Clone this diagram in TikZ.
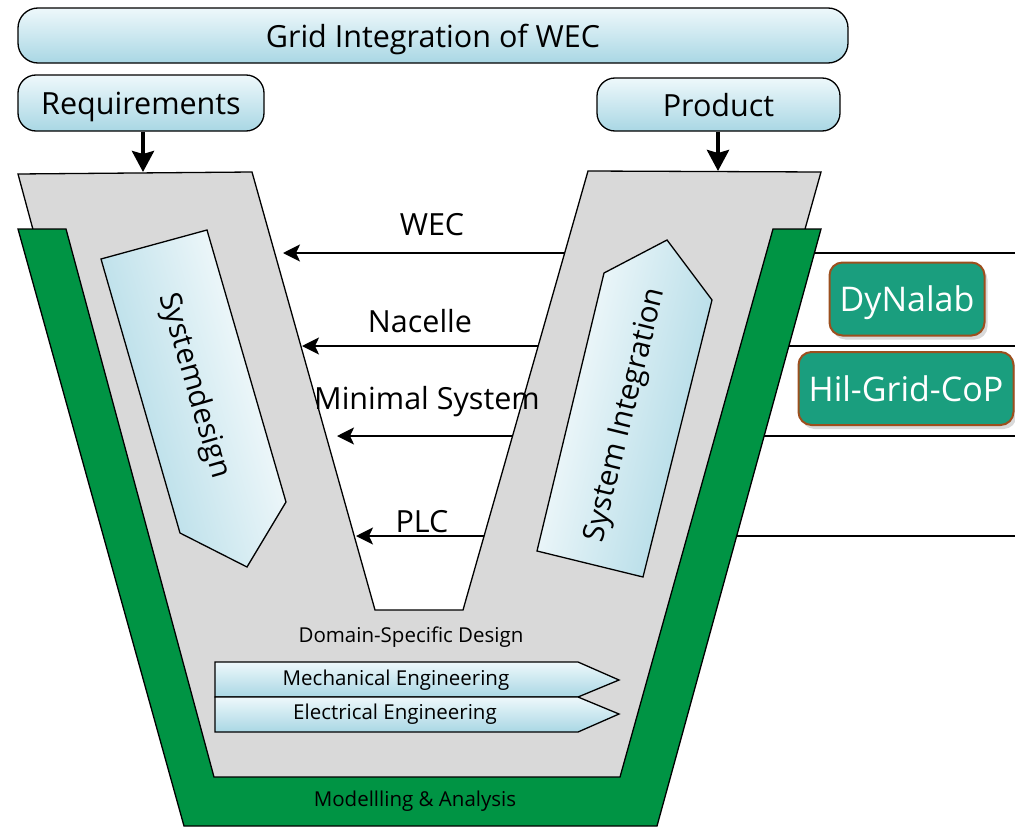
\documentclass[tikz,border=0pt]{standalone}
\usepackage{fontspec}
\setmainfont{Open Sans}
\usetikzlibrary{arrows.meta,shadows}
\definecolor{vgray}{HTML}{D9D9D9}
\definecolor{vgreen}{HTML}{009444}
\definecolor{labteal}{HTML}{1A9E7E}
\definecolor{labedge}{HTML}{9C4F1E}
\definecolor{paleblue}{HTML}{EEF8FB}
\definecolor{midblue}{HTML}{A9D7E4}
\tikzset{
  bigfont/.style={font=\fontsize{30.5}{34}\selectfont},
  rotfont/.style={font=\fontsize{29.7}{33}\selectfont},
  labfont/.style={font=\fontsize{34}{38}\selectfont},
  smallfont/.style={font=\fontsize{20.5}{24}\selectfont},
  bluebar/.style={draw, line width=1.3pt, top color=paleblue, bottom color=midblue,
    inner sep=0pt, text depth=0pt, bigfont},
  labbox/.style={draw=labedge, line width=2pt, fill=labteal, text=white,
    rounded corners=13pt, inner sep=0pt, text depth=0pt, labfont,
    drop shadow={shadow xshift=3pt, shadow yshift=-4pt, opacity=0.3}},
  downarrow/.style={line width=4pt, -{Stealth[length=21pt,width=22pt,inset=3pt]}},
  levelarrow/.style={line width=1.8pt, -{Stealth[length=17pt,width=17pt,inset=4pt]}},
  vshape/.style={draw, line width=1.3pt, line join=miter},
  engarrow/.style={draw, line width=1.3pt, top color=paleblue, bottom color=midblue},
}
\begin{document}
\begin{tikzpicture}[x=1pt,y=-1pt]
\useasboundingbox (0,0) rectangle (1015,827);

% integration levels, drawn first so the V covers them
\coordinate (wecR) at (1015,253);  \coordinate (wecL) at (283,253);
\coordinate (nacR) at (1015,346);  \coordinate (nacL) at (302,346);
\coordinate (minR) at (1015,436);  \coordinate (minL) at (337,436);
\coordinate (plcR) at (1015,536);  \coordinate (plcL) at (356,536);
\draw[levelarrow] (wecR) -- (wecL);
\draw[levelarrow] (nacR) -- (nacL);
\draw[levelarrow] (minR) -- (minL);
\draw[levelarrow] (plcR) -- (plcL);

% grey V
\draw[vshape, fill=vgray] (18,174) -- (252,172) -- (375,610) -- (463,610) -- (588,171)
  -- (821,172) -- (645,800) -- (187,800) -- cycle;
% green modelling frame
\draw[vshape, fill=vgreen] (18,229) -- (66,229) -- (214,777) -- (620,777) -- (773,229)
  -- (821,229) -- (657,826) -- (184,826) -- cycle;

% design and integration arrows
\draw[draw, line width=1.3pt, left color=midblue, right color=white, shading angle=106]
  (101,259) -- (207,230) -- (286,502) -- (247,567) -- (180,533) -- cycle;
\node[rotate=-73.8, rotfont] (sysdesign) at (194,386) {Systemdesign};
\draw[draw, line width=1.3pt, left color=white, right color=midblue, shading angle=76.2]
  (604,273) -- (667,240) -- (712,300) -- (643,577) -- (537,551) -- cycle;
\node[rotate=76.2, rotfont] (sysint) at (626,415) {System Integration};

% domain-specific design
\node[smallfont] (domain) at (411,637) {Domain-Specific Design};
\draw[engarrow] (215,662) -- (578,662) -- (619,680) -- (578,697) -- (215,697) -- cycle;
\node[smallfont] (mech) at (396,680) {Mechanical Engineering};
\draw[engarrow] (215,697) -- (578,697) -- (619,714) -- (578,732) -- (215,732) -- cycle;
\node[smallfont] (elec) at (395,714) {Electrical Engineering};
\node[smallfont] (model) at (415,801) {Modellling \& Analysis};

% level labels
\node[bigfont] (wec) at (432,225) {WEC};
\node[bigfont] (nacelle) at (420,321) {Nacelle};
\node[bigfont] (minimal) at (427,402) {Minimal System};
\node[bigfont] (plc) at (422,522) {PLC};

% header bars
\node[bluebar, rounded corners=20pt, minimum width=830pt, minimum height=55pt]
  (grid) at (433,35.5) {Grid Integration of WEC};
\node[bluebar, rounded corners=18pt, minimum width=246pt, minimum height=56pt]
  (req) at (141,103) {Requirements};
\node[bluebar, rounded corners=18pt, minimum width=243pt, minimum height=53pt]
  (prod) at (718.5,104.5) {Product};
\coordinate (reqin) at (143,172);
\coordinate (prodout) at (718,171);
\draw[downarrow] (req.south -| reqin) -- (reqin);
\draw[downarrow] (prod.south -| prodout) -- (prodout);

% laboratories
\node[labbox, minimum width=155pt, minimum height=73pt] (dyna) at (907,299) {DyNalab};
\node[labbox, minimum width=215pt, minimum height=73pt] (hil) at (906,388.5) {Hil-Grid-CoP};
\end{tikzpicture}
\end{document}
